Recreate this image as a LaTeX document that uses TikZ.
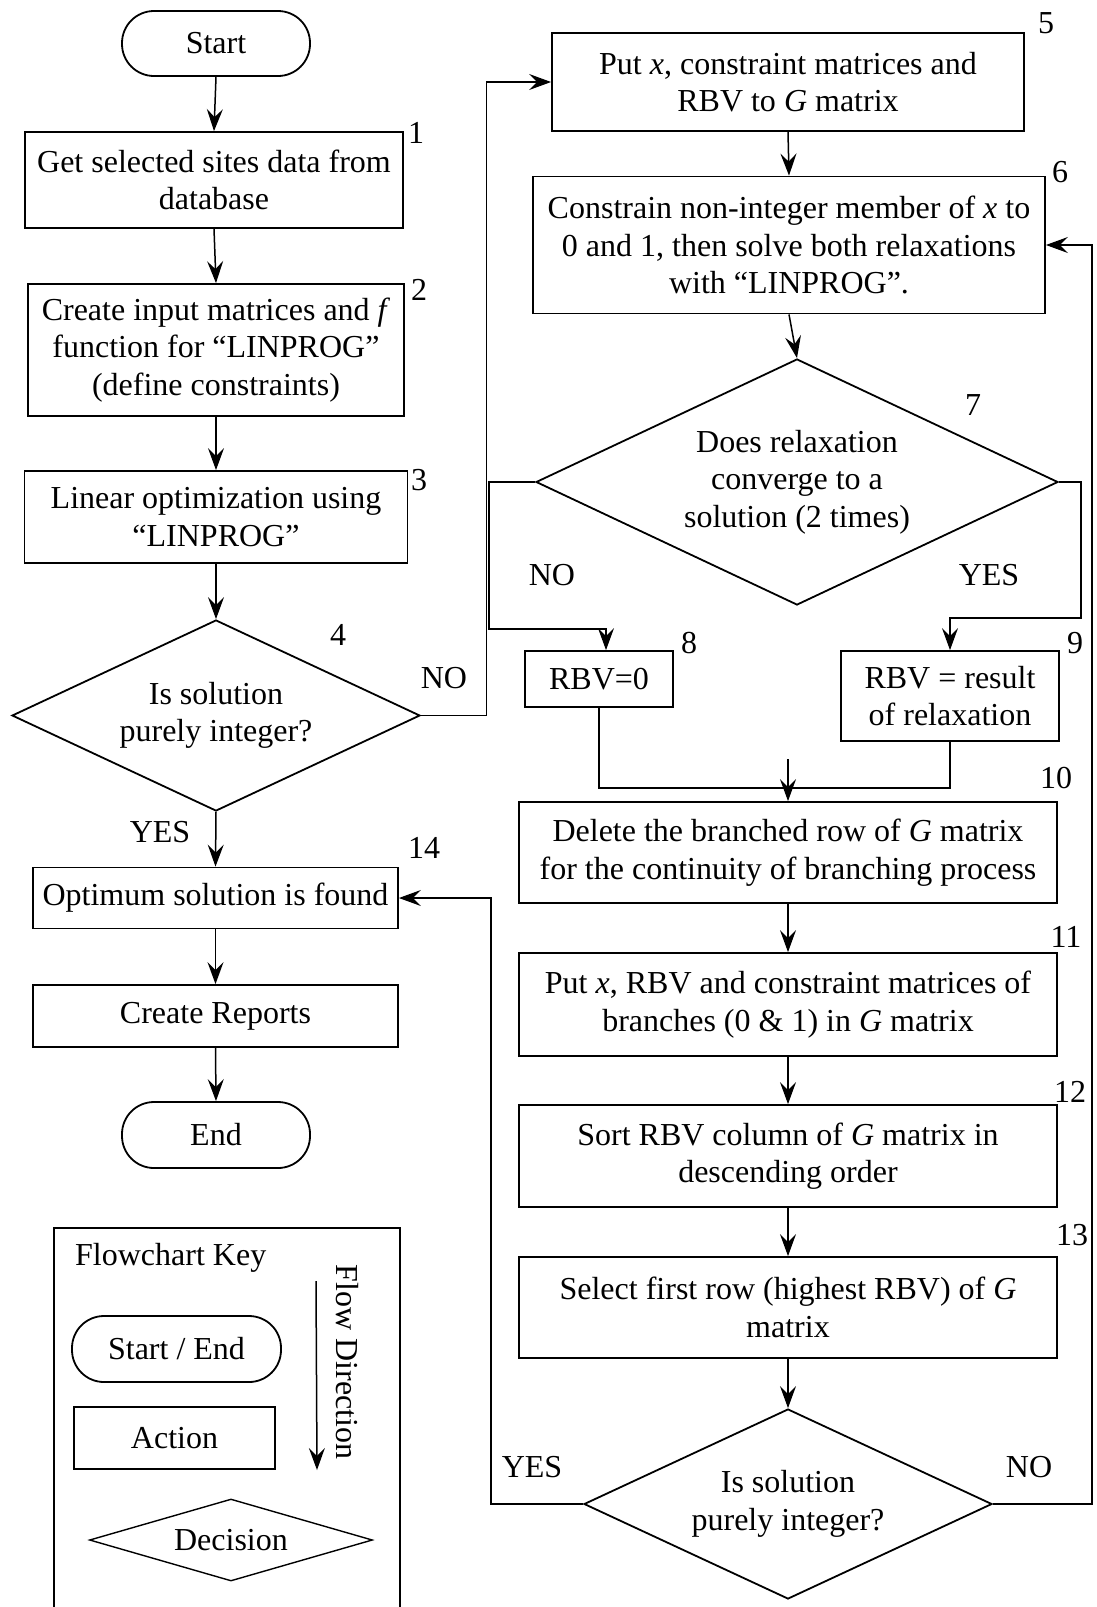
\documentclass[tikz,border=0pt]{standalone}
\usepackage{fontspec}
\setmainfont{Liberation Serif}
\usetikzlibrary{shapes.geometric,arrows.meta}

\begin{document}
\begin{tikzpicture}[x=1pt,y=-1pt,
  every node/.style={font=\fontsize{32}{37.5}\selectfont},
  box/.style={draw, line width=1.8pt, rectangle, inner sep=0pt, align=center},
  term/.style={draw, line width=1.8pt, rectangle, rounded corners=32pt, inner sep=0pt,
               align=center, minimum width=188pt, minimum height=65pt},
  decide/.style={draw, line width=1.8pt, diamond, inner sep=0pt, align=center},
  num/.style={inner sep=0pt},
  flow/.style={line width=1.5pt, -{Stealth[length=22pt,width=16pt,inset=8pt]}},
  link/.style={line width=1.5pt},
]
\useasboundingbox (0,0) rectangle (1097,1607);

% ---- left column: main path ----
\node[term] (start) at (216,43.5) {Start};
\node[box, minimum width=378pt, minimum height=96pt] (b1) at (214,180)
  {Get selected sites data from\\database};
\node[box, minimum width=376pt, minimum height=132pt] (b2) at (216,350)
  {Create input matrices and \textit{f}\\function for “LINPROG”\\(define constraints)};
\node[box, minimum width=383pt, minimum height=92pt] (b3) at (216,517)
  {Linear optimization using\\“LINPROG”};
\node[decide, minimum width=408pt, minimum height=191pt, shape aspect=2.1] (d4) at (216,715.5)
  {Is solution\\purely integer?};
\node[box, minimum width=365pt, minimum height=61pt] (b14) at (215.5,898)
  {Optimum solution is found};
\node[box, minimum width=365pt, minimum height=62pt] (b15) at (215.5,1016)
  {Create Reports};
\node[term, minimum height=66pt] (end) at (216,1135) {End};

% ---- right column: branch and bound loop ----
\node[box, minimum width=472pt, minimum height=98pt] (b5) at (788,82)
  {Put \textit{x}, constraint matrices and\\RBV to \textit{G} matrix};
\node[box, minimum width=512pt, minimum height=137pt] (b6) at (789,245)
  {Constrain non-integer member of \textit{x} to\\0 and 1, then solve both relaxations\\with “LINPROG”.};
\node[decide, minimum width=522pt, minimum height=246pt, shape aspect=2.12] (d7) at (797,482)
  {Does relaxation\\converge to a\\solution (2 times)};
\node[box, minimum width=148pt, minimum height=56pt] (b8) at (599,679) {RBV=0};
\node[box, minimum width=218pt, minimum height=90pt] (b9) at (950,696)
  {RBV = result\\of relaxation};
\node[box, minimum width=538pt, minimum height=101pt] (b10) at (788,852.5)
  {Delete the branched row of \textit{G} matrix\\for the continuity of branching process};
\node[box, minimum width=538pt, minimum height=103pt] (b11) at (788,1004.5)
  {Put \textit{x}, RBV and constraint matrices of\\branches (0 \& 1) in \textit{G} matrix};
\node[box, minimum width=538pt, minimum height=102pt] (b12) at (788,1156)
  {Sort RBV column of \textit{G} matrix in\\descending order};
\node[box, minimum width=538pt, minimum height=101pt] (b13) at (788,1307.5)
  {Select first row (highest RBV) of \textit{G}\\matrix};
\node[decide, minimum width=408pt, minimum height=190pt, shape aspect=2.15] (d14) at (788,1504)
  {Is solution\\purely integer?};

% ---- step numbers ----
\node[num] (n1) at (416,133) {1};
\node[num] (n2) at (419,290) {2};
\node[num] (n3) at (419,480) {3};
\node[num] (n4) at (338,635) {4};
\node[num] (n5) at (1046,23) {5};
\node[num] (n6) at (1060,172) {6};
\node[num] (n7) at (973,405) {7};
\node[num] (n8) at (689,643) {8};
\node[num] (n9) at (1075,643) {9};
\node[num] (n10) at (1056,778) {10};
\node[num] (n11) at (1066,937) {11};
\node[num] (n12) at (1070,1092) {12};
\node[num] (n13) at (1072,1235) {13};
\node[num] (n14) at (424,848) {14};

% ---- branch labels ----
\node[num] (no4) at (444,678) {NO};
\node[num] (yes4) at (160,832) {YES};
\node[num] (no7) at (552,575) {NO};
\node[num] (yes7) at (989,575) {YES};
\node[num] (yes14) at (532,1467) {YES};
\node[num] (no14) at (1029,1467) {NO};

% ---- connectors ----
\draw[flow] (start.south) -- (b1.north);
\draw[flow] (b1.south) -- (b2.north);
\draw[flow] (b2.south) -- (b3.north);
\draw[flow] (b3.south) -- (d4.north);
\draw[flow] (d4.south) -- (b14.north);
\draw[flow] (b14.south) -- (b15.north);
\draw[flow] (b15.south) -- (end.north);

\coordinate (colL) at (486.5,0);
\draw[flow] (d4.east) -| (colL |- b5.west) -- (b5.west);

\draw[flow] (b5.south) -- (b6.north);
\draw[flow] (b6.south) -- (d7.north);

\coordinate (noTurn) at (489,629);
\draw[flow] (d7.west) -| (noTurn) -| ([xshift=7pt]b8.north);
\coordinate (yesTurn) at (1081,618);
\draw[flow] (d7.east) -| (yesTurn) -| (b9.north);

\coordinate (joinY) at (0,788);
\draw[link] (b8.south) |- (joinY -| b9.south) -- (b9.south);
\coordinate (joinTop) at (788,759);
\draw[flow] (joinTop) -- (b10.north);

\draw[flow] (b10.south) -- (b11.north);
\draw[flow] (b11.south) -- (b12.north);
\draw[flow] (b12.south) -- (b13.north);
\draw[flow] (b13.south) -- (d14.north);

\coordinate (colY) at (491,0);
\draw[flow] (d14.west) -| (colY |- b14.east) -- (b14.east);
\coordinate (colR) at (1092,0);
\draw[flow] (d14.east) -| (colR |- b6.east) -- (b6.east);

% ---- flowchart key ----
\draw[line width=1.8pt] (54,1607) -- (54,1228) -- (400,1228) -- (400,1607);
\node[anchor=west, inner sep=0pt] (keytitle) at (75,1258) {Flowchart Key};
\node[term, minimum width=209pt, minimum height=66pt] (kterm) at (176.5,1349) {Start / End};
\node[box, minimum width=201pt, minimum height=62pt] (kact) at (174.5,1438) {Action};
\node[decide, line width=1.4pt, minimum width=283pt, minimum height=82pt, shape aspect=3.45] (kdec) at (231,1540) {Decision};
\coordinate (kA) at (316,1281);
\coordinate (kB) at (317,1470);
\draw[flow] (kA) -- (kB);
\node[rotate=-90, inner sep=0pt] (kflow) at (347,1362) {Flow Direction};
\end{tikzpicture}
\end{document}
